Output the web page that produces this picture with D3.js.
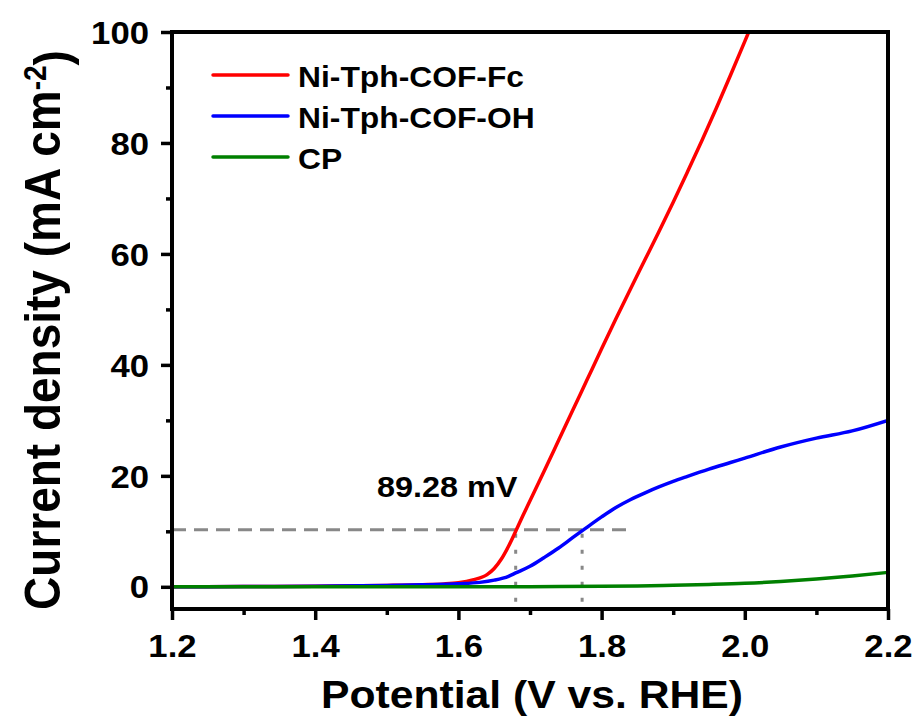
<!DOCTYPE html>
<html>
<head>
<meta charset="utf-8">
<script src="https://cdn.jsdelivr.net/npm/d3@7"></script>
<style>
  html, body { margin: 0; padding: 0; background: #fff; }
  svg { display: block; }
  text { font-family: Arial, "Liberation Sans", Helvetica, sans-serif; font-weight: bold; fill: #000; }
</style>
</head>
<body>
<svg id="chart" width="920" height="722"></svg>
<script>
// LSV polarization curves (current density vs. potential)
const fcV = [1.20, 1.30, 1.40, 1.50, 1.55, 1.58, 1.60, 1.62, 1.64, 1.65, 1.66, 1.67, 1.68, 1.69, 1.70, 1.72, 1.74, 1.76, 1.78, 1.80, 1.82, 1.84, 1.86, 1.88, 1.90, 1.92, 1.94, 1.96, 1.98, 2.00, 2.02];
const fcJ = [0, 0.05, 0.12, 0.25, 0.38, 0.52, 0.75, 1.25, 2.2, 3.3, 5.0, 7.3, 10.0, 12.8, 15.5, 20.9, 26.4, 31.9, 37.4, 42.9, 48.3, 53.6, 58.8, 64.0, 69.3, 74.8, 80.4, 86.2, 92.2, 98.3, 104.5];

const ohV = [1.20, 1.30, 1.40, 1.50, 1.55, 1.60, 1.63, 1.65, 1.67, 1.68, 1.70, 1.72, 1.74, 1.76, 1.775, 1.80, 1.82, 1.84, 1.86, 1.88, 1.90, 1.92, 1.95, 1.98, 2.00, 2.05, 2.10, 2.15, 2.20];
const ohJ = [0, 0.05, 0.12, 0.25, 0.35, 0.55, 0.8, 1.2, 1.9, 2.5, 3.7, 5.3, 7.0, 8.9, 10.3, 12.6, 14.3, 15.7, 16.9, 18.0, 19.0, 19.9, 21.2, 22.4, 23.2, 25.2, 26.8, 28.1, 30.0];

const cpV = [1.20, 1.40, 1.60, 1.70, 1.80, 1.85, 1.90, 1.95, 2.00, 2.05, 2.10, 2.15, 2.20];
const cpJ = [0, 0, 0, 0.02, 0.08, 0.15, 0.27, 0.42, 0.62, 0.95, 1.4, 1.95, 2.6];

const seriesNames = ["Ni-Tph-COF-Fc", "Ni-Tph-COF-OH", "CP"];
const seriesColors = ["#ff0000", "#0000ff", "#008000"];

const xTicks = [1.2, 1.4, 1.6, 1.8, 2.0, 2.2];
const xMinor = [1.3, 1.5, 1.7, 1.9, 2.1];
const yTicks = [0, 20, 40, 60, 80, 100];
const yMinor = [10, 30, 50, 70, 90];

// overpotential marker: both curves crossing 10.3 mA cm-2
const refJ = 10.3;
const refV = [1.680, 1.7728];
const refLineEndV = 1.84;
const deltaLabel = "89.28 mV";

const svg = d3.select("#chart");
const m = { left: 172, right: 888, top: 32, bottom: 609 };

const x = d3.scaleLinear().domain([1.2, 2.2]).range([m.left, m.right]);
const y = d3.scaleLinear().domain([-4, 100]).range([m.bottom, m.top]);

svg.append("defs").append("clipPath").attr("id", "plotClip")
  .append("rect")
  .attr("x", m.left).attr("y", m.top)
  .attr("width", m.right - m.left).attr("height", m.bottom - m.top);

// reference lines
const refG = svg.append("g").attr("clip-path", "url(#plotClip)");
refG.append("line")
  .attr("x1", x(1.2)).attr("x2", x(refLineEndV))
  .attr("y1", y(refJ)).attr("y2", y(refJ))
  .attr("stroke", "#888").attr("stroke-width", 3)
  .attr("stroke-dasharray", "14,8");
refV.forEach(v => {
  refG.append("line")
    .attr("x1", x(v)).attr("x2", x(v))
    .attr("y1", y(refJ) + 4).attr("y2", y(-4))
    .attr("stroke", "#888").attr("stroke-width", 3)
    .attr("stroke-dasharray", "4,12");
});

// curves
const line = d3.line().x(d => x(d[0])).y(d => y(d[1])).curve(d3.curveMonotoneX);
const series = [
  d3.zip(fcV, fcJ),
  d3.zip(ohV, ohJ),
  d3.zip(cpV, cpJ)
];
const curveG = svg.append("g").attr("clip-path", "url(#plotClip)");
series.forEach((s, i) => {
  curveG.append("path")
    .datum(s)
    .attr("d", line)
    .attr("fill", "none")
    .attr("stroke", seriesColors[i])
    .attr("stroke-width", 3.5)
    .attr("stroke-linejoin", "round")
    .attr("stroke-linecap", "round");
});

// axes
const sx = 1.12; // horizontal stretch of tick labels
const xAxis = svg.append("g").attr("transform", `translate(0,${m.bottom})`)
  .call(d3.axisBottom(x).tickValues(xTicks).tickFormat(d3.format(".1f")).tickSize(11).tickSizeOuter(0));
const xMinorG = svg.append("g").attr("transform", `translate(0,${m.bottom})`)
  .call(d3.axisBottom(x).tickValues(xMinor).tickFormat("").tickSize(6).tickSizeOuter(0));
const yAxis = svg.append("g").attr("transform", `translate(${m.left},0)`)
  .call(d3.axisLeft(y).tickValues(yTicks).tickSize(11).tickSizeOuter(0));
const yMinorG = svg.append("g").attr("transform", `translate(${m.left},0)`)
  .call(d3.axisLeft(y).tickValues(yMinor).tickFormat("").tickSize(6).tickSizeOuter(0));

[xAxis, xMinorG, yAxis, yMinorG].forEach(g => {
  g.select(".domain").remove();
  g.selectAll(".tick line").attr("stroke", "#000").attr("stroke-width", 3.5);
});

xAxis.selectAll(".tick text")
  .attr("y", 0).attr("dy", null)
  .attr("transform", `translate(0,${657 - m.bottom}) scale(${sx},1)`)
  .style("font-size", "31px").style("font-family", null);
yAxis.selectAll(".tick text")
  .attr("x", 0).attr("dy", "0.36em")
  .attr("transform", `translate(-23,0) scale(${sx},1)`)
  .style("font-size", "31px").style("font-family", null);
[xAxis, yAxis].forEach(g => g.attr("font-family", null).attr("font-size", null));

// frame
svg.append("rect")
  .attr("x", m.left).attr("y", m.top)
  .attr("width", m.right - m.left).attr("height", m.bottom - m.top)
  .attr("fill", "none").attr("stroke", "#000").attr("stroke-width", 4);

// axis titles
svg.append("text")
  .attr("transform", `translate(${(m.left + m.right) / 2 + 2},708) scale(1.08,1)`)
  .attr("text-anchor", "middle")
  .style("font-size", "39.5px")
  .text("Potential (V vs. RHE)");

const yt = svg.append("text")
  .attr("transform", "translate(60,330) rotate(-90) scale(1,1.1)")
  .attr("text-anchor", "middle")
  .style("font-size", "46px");
yt.append("tspan").text("Current density (mA cm");
yt.append("tspan").attr("dy", "-0.45em").style("font-size", "28px").text("-2");
yt.append("tspan").attr("dy", "0.45em").text(")");

// legend
const legend = svg.append("g");
seriesNames.forEach((name, i) => {
  const ly = 75 + i * 41;
  legend.append("line")
    .attr("x1", 213).attr("x2", 288).attr("y1", ly).attr("y2", ly)
    .attr("stroke", seriesColors[i]).attr("stroke-width", 3.5)
    .attr("stroke-linecap", "round");
  legend.append("text")
    .attr("transform", `translate(298,${ly + 12}) scale(1.06,1)`)
    .style("font-size", "30px")
    .text(name);
});

// overpotential label
svg.append("text")
  .attr("transform", "translate(377,497) scale(1.08,1)")
  .style("font-size", "30px")
  .text(deltaLabel);
</script>
</body>
</html>
